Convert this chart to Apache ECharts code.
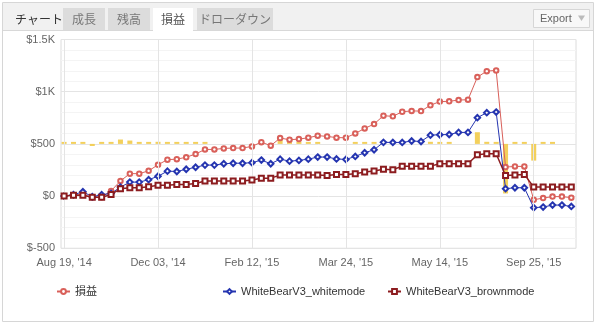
<!DOCTYPE html>
<html>
<head>
<meta charset="utf-8">
<script src="https://cdn.jsdelivr.net/npm/echarts@6/dist/echarts.min.js"></script>
<style>
html,body{margin:0;padding:0;background:#fff;}
#c{width:600px;height:332px;}
</style>
</head>
<body>
<div id="c"></div>
<script>
// ---- data ----
const tickIdx = [0, 10, 20, 30, 40, 50];
const tickLabels = ["Aug 19, '14", "Dec 03, '14", "Feb 12, '15", "Mar 24, '15", "May 14, '15", "Sep 25, '15"];
const yTickLabels = ['$-500', '$0', '$500', '$1K', '$1.5K'];

const seriesNames = ['損益', 'WhiteBearV3_whitemode', 'WhiteBearV3_brownmode'];

const profit = [0,10,16,-10,-10,50,145,215,215,242,
                300,349,354,372,403,447,447,457,460,460,
                476,517,483,556,540,546,559,579,572,560,
                559,600,648,690,770,764,808,816,814,870,
                905,908,920,923,1140,1197,1204,278,284,284,
                -35,-19,-5,-5,-15];
const whiteMode = [0,13,42,-6,13,26,86,134,134,157,
                   190,239,236,257,276,297,297,310,315,315,
                   320,345,310,354,335,342,354,374,374,356,
                   351,380,415,444,515,514,514,528,523,584,
                   588,590,610,610,751,799,805,71,80,80,
                   -111,-105,-86,-86,-99];
const brownMode = [0,7,7,-12,-12,16,70,80,80,90,
                   103,105,112,112,120,144,144,144,144,144,
                   155,172,172,201,201,201,201,201,198,208,
                   208,214,230,241,258,253,287,287,287,287,
                   310,310,310,310,396,406,406,198,201,208,
                   86,86,86,86,86];
// yellow columns: change around the $500 reference level
const barBaseline = 500;
const barDelta = [0,0,5,-20,0,10,42,32,0,0,
                  20,15,0,0,0,10,null,null,null,null,
                  null,null,null,55,0,0,0,0,null,null,
                  null,10,10,0,0,0,null,null,null,20,
                  0,0,null,null,112,20,0,-475,0,0,
                  -160,0,0,null,null];

// ---- build ----
const pairs = arr => arr.map((v, i) => [i, v]);
const deltaData = barDelta.map((v, i) => [i, v]);

const FONT = '"Liberation Sans", Arial, "Noto Sans CJK JP", sans-serif';
const JP = '"Noto Sans CJK JP", sans-serif';
const chart = echarts.init(document.getElementById('c'), null, {renderer: 'canvas'});

const legendCommon = {itemWidth: 13, itemHeight: 6, padding: 0, textStyle: {fontSize: 11, color: '#333', fontFamily: FONT}};

const option = {
  animation: false,
  backgroundColor: '#fff',
  textStyle: {fontFamily: FONT},
  grid: {left: 61, right: 24, top: 39.5, bottom: 83.7, show: true, borderColor: '#dcdcdc', borderWidth: 1},
  xAxis: {
    type: 'value', min: -0.33, max: 54.5,
    axisLine: {show: false}, axisTick: {show: false}, splitLine: {show: false},
    axisLabel: {
      customValues: tickIdx,
      formatter: v => { const k = tickIdx.indexOf(Math.round(v)); return k >= 0 ? tickLabels[k] : ''; },
      color: '#666', fontSize: 11, margin: 9, fontFamily: FONT
    }
  },
  yAxis: {
    type: 'value', min: -500, max: 1500, interval: 500,
    axisLine: {show: false}, axisTick: {show: false},
    axisLabel: {formatter: v => yTickLabels[Math.round((v + 500) / 500)], color: '#666', fontSize: 11, margin: 6, fontFamily: FONT},
    splitLine: {lineStyle: {color: '#e4e4e4'}},
    minorTick: {show: false, splitNumber: 5},
    minorSplitLine: {show: true, lineStyle: {color: '#f4f4f4'}}
  },
  legend: [
    Object.assign({data: [seriesNames[0]], left: 56, top: 286}, legendCommon),
    Object.assign({data: [seriesNames[1]], left: 222, top: 286}, legendCommon),
    Object.assign({data: [seriesNames[2]], left: 387, top: 286}, legendCommon)
  ],
  series: [
    {
      type: 'custom', name: 'delta', data: deltaData, silent: true, z: 1,
      encode: {x: 0, y: 1},
      renderItem: (params, api) => {
        const d = api.value(1);
        if (d == null || isNaN(d)) return null;
        const x = api.value(0);
        const p0 = api.coord([x, barBaseline]);
        const p1 = api.coord([x, barBaseline + d]);
        let h = p1[1] - p0[1];
        if (Math.abs(h) < 2) h = -2;
        return {
          type: 'rect',
          shape: {x: p0[0] - 2.5, y: Math.min(p0[1], p0[1] + h), width: 5, height: Math.abs(h)},
          style: {fill: '#f2cb4a', opacity: 0.9}
        };
      },
      markLine: {
        silent: true, symbol: 'none', label: {show: false},
        lineStyle: {color: '#e4e4e4', type: 'solid', width: 1},
        data: tickIdx.map(i => ({xAxis: i}))
      }
    },
    {
      type: 'line', name: seriesNames[0], data: pairs(profit),
      symbol: 'emptyCircle', symbolSize: 4.5, showAllSymbol: true,
      itemStyle: {color: '#d9605a', borderWidth: 1},
      lineStyle: {color: '#d9605a', width: 1}, z: 3
    },
    {
      type: 'line', name: seriesNames[1], data: pairs(whiteMode),
      symbol: 'emptyDiamond', symbolSize: 5.5, showAllSymbol: true,
      itemStyle: {color: '#2535b0', borderWidth: 1},
      lineStyle: {color: '#2535b0', width: 1}, z: 4
    },
    {
      type: 'line', name: seriesNames[2], data: pairs(brownMode),
      symbol: 'emptyRect', symbolSize: 5, showAllSymbol: true,
      itemStyle: {color: '#8c1c1f', borderWidth: 1.3},
      lineStyle: {color: '#8c1c1f', width: 1.5}, z: 5
    }
  ],
  graphic: [
    {type: 'rect', shape: {x: 2.5, y: 2.5, width: 591, height: 319}, style: {fill: 'none', stroke: '#d6d6d6', lineWidth: 1}, z: -5, silent: true},
    {type: 'rect', shape: {x: 3, y: 3, width: 590, height: 27}, style: {fill: '#f1f1f1'}, z: -4, silent: true},
    {type: 'line', shape: {x1: 3, y1: 30.5, x2: 593, y2: 30.5}, style: {stroke: '#d8d8d8', lineWidth: 1}, z: -3, silent: true},
    {type: 'text', x: 15, y: 19, style: {text: 'チャート', fontSize: 12, fill: '#333', fontFamily: JP, verticalAlign: 'middle'}, silent: true},
    {type: 'rect', shape: {x: 63, y: 8, width: 42, height: 22}, style: {fill: '#dcdcdc'}, z: -2, silent: true},
    {type: 'text', x: 84, y: 19.5, style: {text: '成長', fontSize: 12, fill: '#777', fontFamily: JP, align: 'center', verticalAlign: 'middle'}, silent: true},
    {type: 'rect', shape: {x: 108, y: 8, width: 42, height: 22}, style: {fill: '#dcdcdc'}, z: -2, silent: true},
    {type: 'text', x: 129, y: 19.5, style: {text: '残高', fontSize: 12, fill: '#777', fontFamily: JP, align: 'center', verticalAlign: 'middle'}, silent: true},
    {type: 'rect', shape: {x: 153, y: 8, width: 40, height: 23}, style: {fill: '#ffffff'}, z: -2, silent: true},
    {type: 'text', x: 173, y: 19.5, style: {text: '損益', fontSize: 12, fill: '#555', fontFamily: JP, align: 'center', verticalAlign: 'middle'}, silent: true},
    {type: 'rect', shape: {x: 197, y: 8, width: 76, height: 22}, style: {fill: '#dcdcdc'}, z: -2, silent: true},
    {type: 'text', x: 235, y: 19.5, style: {text: 'ドローダウン', fontSize: 12, fill: '#777', fontFamily: JP, align: 'center', verticalAlign: 'middle'}, silent: true},
    {type: 'rect', shape: {x: 533.5, y: 9.5, width: 56, height: 18}, style: {fill: '#f8f8f8', stroke: '#d6d6d6', lineWidth: 1}, z: -2, silent: true},
    {type: 'text', x: 540, y: 18.5, style: {text: 'Export', fontSize: 11, fill: '#666', fontFamily: FONT, verticalAlign: 'middle'}, silent: true},
    {type: 'polygon', shape: {points: [[578, 15.5], [585, 15.5], [581.5, 21]]}, style: {fill: '#bbb'}, silent: true}
  ]
};
chart.setOption(option);
</script>
</body>
</html>
